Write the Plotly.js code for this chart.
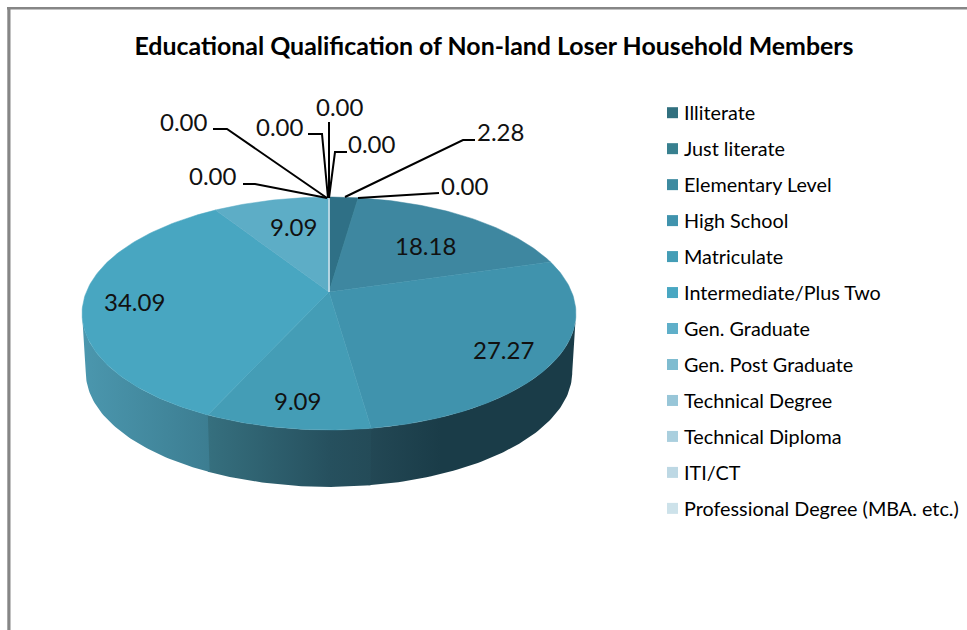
<!DOCTYPE html>
<html>
<head>
<meta charset="utf-8">
<script src="https://cdn.plot.ly/plotly-3.0.1.min.js"></script>
<style>html,body{margin:0;padding:0;background:#fff;overflow:hidden}</style>
</head>
<body>
<div id="chart" style="width:967px;height:630px"></div>
<script>
const categories = ["Illiterate","Just literate","Elementary Level","High School","Matriculate","Intermediate/Plus Two","Gen. Graduate","Gen. Post Graduate","Technical Degree","Technical Diploma","ITI/CT","Professional Degree (MBA. etc.)"];
const values = [2.28,0,18.18,27.27,9.09,34.09,9.09,0,0,0,0,0];
const topColors = ["#2f7086","#37808f","#3e87a0","#4093ad","#449db6","#48a6c1","#5dadc6","#7fbcd0","#98c6d8","#aacfde","#bdd8e4","#cde2ea"];
const legendColors = ["#31707f","#38808f","#3d8aa0","#4093ad","#449db6","#49a7c2","#5fafc9","#7fbcd0","#98c6d8","#aacfde","#bdd8e4","#cde2ea"];
const wallScales = {
  3: [[0,"#234855"],[0.35,"#1a3c48"],[1,"#1a3c48"]],
  4: [[0,"#36707f"],[0.75,"#26505e"],[1,"#244b58"]],
  5: [[0,"#4b97ae"],[1,"#3c7d91"]]
};
const labelPos = [[500,131.5],[465,185.5],[425,245.5],[503,349.5],[297,400.5],[134,301.5],[293,226.5],[213,175.5],[184,121.5],[280,126.5],[340,106.5],[372,143.5]];
const leaderPaths = [
  "M475,140 L463,140 L345,197","M439,193 L358,198","M243,184 L255,184 L327,198",
  "M213,129 L227,129 L327,198","M308,134 L322,134 L328,198","M329,122 L329,198","M347,152 L335,152 L329,198"
];

const AX=329, AY=292, R=242.7, A=112.5, K=0.1845;
const DEPTH=59, BS=0.985;
function proj(deg, s, dy){
  const t=deg*Math.PI/180, d=1+K*Math.cos(t);
  return [AX+s*R*Math.sin(t)/d, AY+dy-s*A*Math.cos(t)/d];
}
function arc(a,b,s,dy){
  const n=Math.max(1,Math.ceil(Math.abs(b-a))), p=[];
  for(let i=0;i<=n;i++) p.push(proj(a+(b-a)*i/n,s,dy));
  return p;
}
const total=values.reduce((u,v)=>u+v,0);
const VIS0=100.6, VIS1=259.4;
const traces=[];
let acc=0;
const tops=[];
values.forEach((v,i)=>{
  const a=acc/total*360, b=(acc+v)/total*360; acc+=v;
  const lo=Math.max(a,VIS0), hi=Math.min(b+0.4,VIS1);
  if(b>VIS0 && a<VIS1 && v>0){
    const pts=arc(lo,hi,1,0).concat(arc(hi,lo,BS,DEPTH));
    pts.push(pts[0]);
    traces.push({type:"scatter",mode:"lines",x:pts.map(p=>p[0]),y:pts.map(p=>p[1]),
      fill:"toself",line:{width:0},fillcolor:topColors[i],
      fillgradient:{type:"horizontal",colorscale:wallScales[i]},hoverinfo:"skip",showlegend:false});
  }
  const pts=[[AX,AY]].concat(arc(a,b,1,0)); pts.push([AX,AY]);
  tops.push({type:"scatter",mode:"lines",x:pts.map(p=>p[0]),y:pts.map(p=>p[1]),
    fill:"toself",fillcolor:topColors[i],line:{width:0.5,color:topColors[i]},
    name:categories[i],text:v.toFixed(2),hoverinfo:"name+text",showlegend:false});
});
traces.push(...tops);
traces.push({type:"scatter",mode:"markers",
  x:categories.map(()=>672.5),y:categories.map((c,i)=>112.7+i*35.97),
  marker:{symbol:"square",size:11,color:legendColors},
  name:"legend",text:categories,hoverinfo:"text",showlegend:false,cliponaxis:false});

const valueLabels=values.map((v,i)=>({
  x:labelPos[i][0],y:labelPos[i][1],xref:"x",yref:"y",text:v.toFixed(2),showarrow:false,
  xanchor:"center",yanchor:"middle",font:{family:"Lato",size:24,color:"#111"}
}));
const legendLabels=categories.map((c,i)=>({
  x:682,y:111.5+i*36,xref:"x",yref:"y",text:c,showarrow:false,
  xanchor:"left",yanchor:"middle",font:{family:"Lato",size:19.8,color:"#000"}
}));
const shapes=[
  {type:"rect",xref:"x",yref:"y",x0:7,x1:967,y0:7,y1:9.5,fillcolor:"#868686",line:{width:0}},
  {type:"rect",xref:"x",yref:"y",x0:7.3,x1:10.5,y0:7,y1:630,fillcolor:"#868686",line:{width:0}}
].concat(leaderPaths.map(p=>({type:"path",xref:"x",yref:"y",path:p,line:{color:"#000",width:2}})));

const layout={
  width:967,height:630,margin:{l:0,r:0,t:0,b:0},
  paper_bgcolor:"#fff",plot_bgcolor:"#fff",showlegend:false,
  title:{text:"Educational Qualification of Non-land Loser Household Members",
    x:494/967,xanchor:"center",xref:"paper",y:1-46/630,yanchor:"middle",yref:"paper",
    font:{family:"Lato",size:24.9,color:"#000",weight:"bold"}},
  xaxis:{range:[0,967],visible:false,fixedrange:true},
  yaxis:{range:[630,0],visible:false,fixedrange:true},
  annotations:valueLabels.concat(legendLabels),shapes
};
Plotly.newPlot("chart",traces,layout,{displayModeBar:false});
</script>
</body>
</html>
